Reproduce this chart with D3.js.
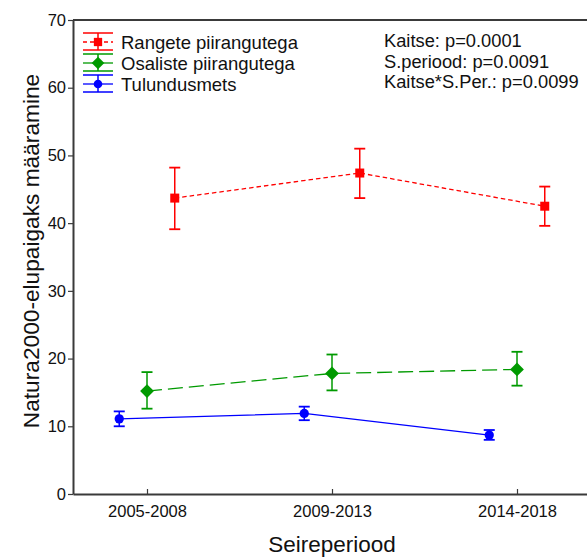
<!DOCTYPE html>
<html>
<head>
<meta charset="utf-8">
<script src="https://cdn.jsdelivr.net/npm/d3@7"></script>
<style>
  html, body { margin: 0; padding: 0; background: #fff; }
  svg { display: block; font-family: Arial, "Liberation Sans", sans-serif; }
</style>
</head>
<body>
<svg id="chart" width="587" height="559"></svg>
<script>
// Monitoring periods on the x axis
const periods = ["2005-2008", "2009-2013", "2014-2018"];

// Series names (legend order)
const seriesNames = ["Rangete piirangutega", "Osaliste piirangutega", "Tulundusmets"];

// Means and error limits per period
const rangeteMean  = [43.7, 47.4, 42.5];
const rangeteLow   = [39.1, 43.7, 39.6];
const rangeteHigh  = [48.2, 51.0, 45.4];

const osalisteMean = [15.2, 17.8, 18.4];
const osalisteLow  = [12.6, 15.3, 16.0];
const osalisteHigh = [18.0, 20.6, 21.0];

const tulundusMean = [11.1, 11.9, 8.7];
const tulundusLow  = [10.0, 10.9, 8.0];
const tulundusHigh = [12.2, 12.9, 9.45];

// y axis ticks
const yTicks = [0, 10, 20, 30, 40, 50, 60, 70];

// Statistical test results
const statLines = ["Kaitse: p=0.0001", "S.periood: p=0.0091", "Kaitse*S.Per.: p=0.0099"];

// square turned 45 degrees, used for the diamond marker
const symbolRhomb = {
  draw(ctx, size) {
    const r = Math.sqrt(size) / Math.SQRT2;
    ctx.moveTo(0, -r); ctx.lineTo(r, 0); ctx.lineTo(0, r); ctx.lineTo(-r, 0); ctx.closePath();
  }
};

const series = [
  { name: seriesNames[0], mean: rangeteMean, low: rangeteLow, high: rangeteHigh,
    color: "#ff0000", dash: "4.5,3", legendDash: "4,3", shape: d3.symbolSquare, size: 81, shift: 0.15 },
  { name: seriesNames[1], mean: osalisteMean, low: osalisteLow, high: osalisteHigh,
    color: "#009a00", dash: "15,6", legendDash: null, shape: symbolRhomb, size: 95, shift: 0 },
  { name: seriesNames[2], mean: tulundusMean, low: tulundusLow, high: tulundusHigh,
    color: "#0000ff", dash: null, legendDash: null, shape: d3.symbolCircle, size: 68, shift: -0.15 }
];

const svg = d3.select("#chart");
const plot = { left: 73, right: 591, top: 20, bottom: 494 };

const x = d3.scalePoint().domain(periods).range([plot.left, plot.right]).padding(0.4);
const y = d3.scaleLinear().domain([0, 70]).range([plot.bottom, plot.top]);
const step = x.step();

const axisColor = "#3a3a3a";
const font = "Arial, 'Liberation Sans', sans-serif";

// frame: top border and axes
svg.append("line")
  .attr("x1", plot.left).attr("x2", plot.right)
  .attr("y1", plot.top).attr("y2", plot.top)
  .attr("stroke", axisColor).attr("stroke-width", 2);

const yAxis = svg.append("g")
  .attr("transform", `translate(${plot.left},0)`)
  .call(d3.axisLeft(y).tickValues(yTicks).tickSize(5).tickPadding(2).tickSizeOuter(0));
yAxis.select(".domain").attr("stroke", axisColor).attr("stroke-width", 2);
yAxis.selectAll(".tick line").attr("stroke", axisColor).attr("stroke-width", 1.2);
yAxis.selectAll(".tick text").attr("font-size", 16.5).attr("fill", "#111").attr("font-family", font);

const xAxis = svg.append("g")
  .attr("transform", `translate(0,${plot.bottom})`)
  .call(d3.axisBottom(x).tickSize(-5).tickPadding(11).tickSizeOuter(0));
xAxis.select(".domain").attr("stroke", axisColor).attr("stroke-width", 2);
xAxis.selectAll(".tick line").attr("stroke", axisColor).attr("stroke-width", 1.2);
xAxis.selectAll(".tick text").attr("font-size", 16.5).attr("fill", "#111").attr("font-family", font);

// axis titles
svg.append("text")
  .attr("x", 332).attr("y", 552)
  .attr("text-anchor", "middle").attr("font-size", 22.5).attr("fill", "#111")
  .text("Seireperiood");

svg.append("text")
  .attr("transform", `translate(39,251) rotate(-90)`)
  .attr("text-anchor", "middle").attr("font-size", 22.7).attr("fill", "#111")
  .text("Natura2000-elupaigaks määramine");

// series: connecting lines, error bars, markers
const capHalf = 5.5;
series.forEach(s => {
  const px = i => x(periods[i]) + s.shift * step;
  const pts = periods.map((p, i) => i);
  const g = svg.append("g");

  g.append("path")
    .datum(pts)
    .attr("d", d3.line().x(i => px(i)).y(i => y(s.mean[i])))
    .attr("fill", "none").attr("stroke", s.color).attr("stroke-width", 1.3)
    .attr("stroke-dasharray", s.dash);

  const eb = g.selectAll(".eb").data(pts).enter().append("g");
  eb.append("line")
    .attr("x1", px).attr("x2", px)
    .attr("y1", i => y(s.low[i])).attr("y2", i => y(s.high[i]))
    .attr("stroke", s.color).attr("stroke-width", 1.5);
  ["low", "high"].forEach(k => {
    eb.append("line")
      .attr("x1", i => px(i) - capHalf).attr("x2", i => px(i) + capHalf)
      .attr("y1", i => y(s[k][i])).attr("y2", i => y(s[k][i]))
      .attr("stroke", s.color).attr("stroke-width", 1.8);
  });

  g.selectAll(".mk").data(pts).enter().append("path")
    .attr("d", d3.symbol().type(s.shape).size(s.size))
    .attr("transform", i => `translate(${px(i)},${y(s.mean[i])})`)
    .attr("fill", s.color);
});

// legend
const legend = svg.append("g");
const legendRows = [42, 63, 84];
series.forEach((s, k) => {
  const cy = legendRows[k];
  const g = legend.append("g").attr("transform", `translate(0,${cy})`);
  const x0 = 83, x1 = 113, xm = 98;
  g.append("line").attr("x1", x0).attr("x2", x1).attr("y1", -9).attr("y2", -9)
    .attr("stroke", s.color).attr("stroke-width", 1.5);
  g.append("line").attr("x1", x0).attr("x2", x1).attr("y1", 8).attr("y2", 8)
    .attr("stroke", s.color).attr("stroke-width", 1.5);
  g.append("line").attr("x1", x0).attr("x2", x1).attr("y1", 0).attr("y2", 0)
    .attr("stroke", s.color).attr("stroke-width", 1.3).attr("stroke-dasharray", s.legendDash);
  g.append("line").attr("x1", xm).attr("x2", xm).attr("y1", -9).attr("y2", 8)
    .attr("stroke", s.color).attr("stroke-width", 1.5);
  g.append("path").attr("d", d3.symbol().type(s.shape).size(s.size * 0.85))
    .attr("transform", `translate(${xm},0)`).attr("fill", s.color);
  g.append("text").attr("x", 121).attr("y", 6.5)
    .attr("font-size", 18.5).attr("fill", "#111").text(s.name);
});

// test results
svg.append("g").selectAll("text").data(statLines).enter().append("text")
  .attr("x", 384).attr("y", (d, i) => 47 + i * 20.5)
  .attr("font-size", 18.3).attr("fill", "#111")
  .text(d => d);
</script>
</body>
</html>
